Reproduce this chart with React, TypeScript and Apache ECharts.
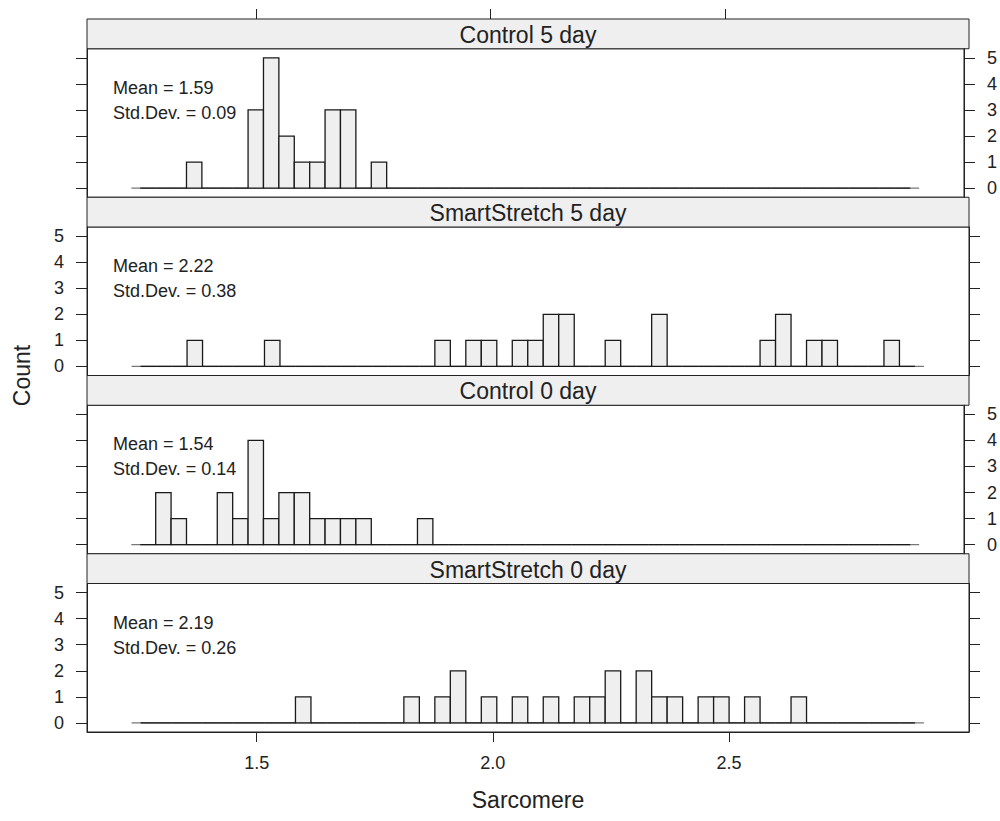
import React, { useEffect, useRef } from "react";
import * as echarts from "echarts";

// ---- data ----
const panelNames = ["Control 5 day", "SmartStretch 5 day", "Control 0 day", "SmartStretch 0 day"];
const meanLabels = ["1.59", "2.22", "1.54", "2.19"];
const sdLabels = ["0.09", "0.38", "0.14", "0.26"];

const BIN_START = 1.254;
const BIN_WIDTH = 0.0328;

const control5Day = [
  0, 0, 0, 1, 0, 0, 0, 3, 5, 2,
  1, 1, 3, 3, 0, 1, 0, 0, 0, 0,
  0, 0, 0, 0, 0, 0, 0, 0, 0, 0,
  0, 0, 0, 0, 0, 0, 0, 0, 0, 0,
  0, 0, 0, 0, 0, 0, 0, 0, 0, 0,
];
const smartStretch5Day = [
  0, 0, 0, 1, 0, 0, 0, 0, 1, 0,
  0, 0, 0, 0, 0, 0, 0, 0, 0, 1,
  0, 1, 1, 0, 1, 1, 2, 2, 0, 0,
  1, 0, 0, 2, 0, 0, 0, 0, 0, 0,
  1, 2, 0, 1, 1, 0, 0, 0, 1, 0,
];
const control0Day = [
  0, 2, 1, 0, 0, 2, 1, 4, 1, 2,
  2, 1, 1, 1, 1, 0, 0, 0, 1, 0,
  0, 0, 0, 0, 0, 0, 0, 0, 0, 0,
  0, 0, 0, 0, 0, 0, 0, 0, 0, 0,
  0, 0, 0, 0, 0, 0, 0, 0, 0, 0,
];
const smartStretch0Day = [
  0, 0, 0, 0, 0, 0, 0, 0, 0, 0,
  1, 0, 0, 0, 0, 0, 0, 1, 0, 1,
  2, 0, 1, 0, 1, 0, 1, 0, 1, 1,
  2, 0, 2, 1, 1, 0, 1, 1, 0, 1,
  0, 0, 1, 0, 0, 0, 0, 0, 0, 0,
];
const panelCounts = [control5Day, smartStretch5Day, control0Day, smartStretch0Day];

const xTicks = [1.5, 2.0, 2.5];
const yTicks = [0, 1, 2, 3, 4, 5];
const baselineRange = [1.235, 2.913];

const X_MIN = 1.1405;
const X_MAX = 3.0085;
const Y_MIN = -0.35;
const Y_MAX = 5.35;

// ---- layout ----
const W = 1000;
const H = 821;
const LEFT = 87;
const RIGHT_EDGE = 969;
const TOP = 19;
const PANEL_H = 178.25;
const STRIP_H = 29.75;
const FONT = "'Liberation Sans', Arial, Helvetica, sans-serif";
const INK = "#222";

export default function App() {
  const ref = useRef<HTMLDivElement>(null);

  useEffect(() => {
    if (!ref.current) return;
    const chart = echarts.init(ref.current, undefined, { renderer: "svg" });

    const grids: any[] = [];
    const xAxes: any[] = [];
    const yAxes: any[] = [];
    const series: any[] = [];
    const graphics: any[] = [];

    panelNames.forEach((name, k) => {
      const stripTop = TOP + k * PANEL_H;
      const bodyTop = stripTop + STRIP_H;
      const bodyH = PANEL_H - STRIP_H;
      grids.push({
        left: LEFT,
        width: RIGHT_EDGE - LEFT,
        top: bodyTop,
        height: bodyH,
        show: true,
        borderColor: INK,
        borderWidth: 1,
        backgroundColor: "transparent",
      });

      const isTop = k === 0;
      const isBottom = k === panelNames.length - 1;
      xAxes.push({
        type: "value",
        gridIndex: k,
        min: X_MIN,
        max: X_MAX,
        show: isTop || isBottom,
        position: isTop ? "top" : "bottom",
        offset: isTop ? STRIP_H : 0,
        axisLine: { show: !isTop, onZero: false, lineStyle: { color: INK, width: 1 } },
        axisTick: { show: true, length: 10, inside: false, customValues: xTicks, lineStyle: { color: INK, width: 1 } },
        axisLabel: {
          show: isBottom,
          customValues: xTicks,
          formatter: (v: number) => v.toFixed(1),
          margin: 22,
          fontSize: 18,
          color: INK,
          fontFamily: FONT,
        },
        splitLine: { show: false },
      });

      const labelsRight = k % 2 === 0;
      ["left", "right"].forEach((side) => {
        const showLabel = (side === "right") === labelsRight;
        yAxes.push({
          type: "value",
          gridIndex: k,
          position: side,
          min: Y_MIN,
          max: Y_MAX,
          axisLine: { show: true, onZero: false, lineStyle: { color: INK, width: 1 } },
          axisTick: { show: true, length: 11, inside: false, customValues: yTicks, lineStyle: { color: INK, width: 1 } },
          axisLabel: {
            show: showLabel,
            customValues: yTicks,
            margin: 23,
            fontSize: 18,
            color: INK,
            fontFamily: FONT,
          },
          splitLine: { show: false },
        });
      });

      series.push({
        type: "line",
        xAxisIndex: k,
        yAxisIndex: 2 * k,
        data: [
          [baselineRange[0], 0],
          [baselineRange[1], 0],
        ],
        symbol: "none",
        lineStyle: { color: "#777", width: 1.3 },
        z: 1,
        silent: true,
      });

      const binData = panelCounts[k].map((c, i) => [
        BIN_START + i * BIN_WIDTH,
        BIN_START + (i + 1) * BIN_WIDTH,
        c,
      ]);
      series.push({
        type: "custom",
        xAxisIndex: k,
        yAxisIndex: 2 * k,
        z: 2,
        data: binData,
        encode: { x: [0, 1], y: 2 },
        renderItem: (params: any, api: any) => {
          const x0 = api.value(0);
          const x1 = api.value(1);
          const c = api.value(2);
          const p0 = api.coord([x0, 0]);
          const p1 = api.coord([x1, c]);
          if (c === 0) {
            return {
              type: "line",
              shape: { x1: p0[0], y1: p0[1], x2: p1[0], y2: p0[1] },
              style: { stroke: "#1a1a1a", lineWidth: 1.3 },
            };
          }
          return {
            type: "rect",
            shape: { x: p0[0], y: p1[1], width: p1[0] - p0[0], height: p0[1] - p1[1] },
            style: { fill: "#efefef", stroke: "#1a1a1a", lineWidth: 1.3 },
          };
        },
      });

      graphics.push({
        type: "rect",
        shape: { x: LEFT, y: stripTop, width: RIGHT_EDGE - LEFT, height: STRIP_H },
        style: { fill: "#efefef", stroke: INK, lineWidth: 1 },
        z: 0,
      });
      graphics.push({
        type: "text",
        x: (LEFT + RIGHT_EDGE) / 2,
        y: stripTop + STRIP_H / 2 + 1,
        style: {
          text: name,
          align: "center",
          verticalAlign: "middle",
          fontSize: 23,
          fontFamily: FONT,
          fill: INK,
        },
        z: 5,
      });
      graphics.push({
        type: "text",
        x: 113,
        y: bodyTop + 39,
        style: { text: "Mean = " + meanLabels[k], align: "left", verticalAlign: "middle", fontSize: 18, fontFamily: FONT, fill: INK },
        z: 5,
      });
      graphics.push({
        type: "text",
        x: 113,
        y: bodyTop + 64,
        style: { text: "Std.Dev. = " + sdLabels[k], align: "left", verticalAlign: "middle", fontSize: 18, fontFamily: FONT, fill: INK },
        z: 5,
      });
    });

    graphics.push({
      type: "text",
      x: 22,
      y: TOP + (PANEL_H * panelNames.length) / 2,
      rotation: Math.PI / 2,
      style: { text: "Count", align: "center", verticalAlign: "middle", fontSize: 23, fontFamily: FONT, fill: INK },
    });
    graphics.push({
      type: "text",
      x: (LEFT + RIGHT_EDGE) / 2,
      y: 800,
      style: { text: "Sarcomere", align: "center", verticalAlign: "middle", fontSize: 23, fontFamily: FONT, fill: INK },
    });

    chart.setOption({
      animation: false,
      backgroundColor: "#fff",
      grid: grids,
      xAxis: xAxes,
      yAxis: yAxes,
      series,
      graphic: { elements: graphics },
    });

    return () => chart.dispose();
  }, []);

  return (
    <div
      ref={ref}
      style={{ position: "fixed", left: 0, top: 0, width: W, height: H }}
    />
  );
}
